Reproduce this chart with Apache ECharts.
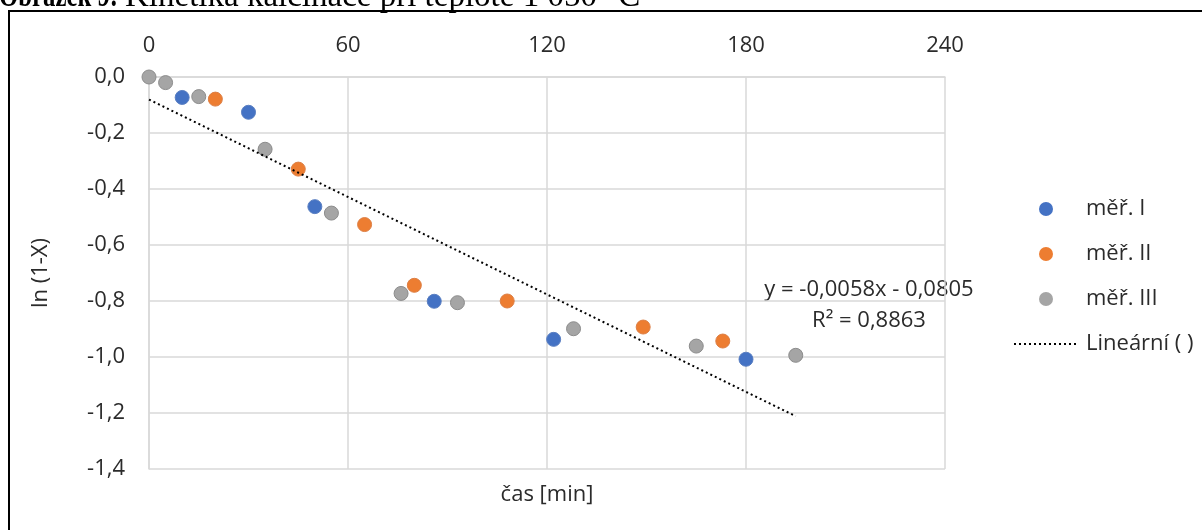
<!DOCTYPE html>
<html>
<head>
<meta charset="utf-8">
<title>Kinetika kalcinace</title>
<script src="https://cdn.jsdelivr.net/npm/echarts@6/dist/echarts.min.js"></script>
<style>
  html, body { margin: 0; padding: 0; background: #fff; }
  #chart { width: 1202px; height: 530px; }
</style>
</head>
<body>
<div id="chart"></div>
<script>
// Measurement series: time [min] and ln(1-X)
const seriesNames = ['měř. I', 'měř. II', 'měř. III'];
const seriesColors = ['#4472C4', '#ED7D31', '#A5A5A5'];
const seriesBorders = ['#5a7fc2', '#dd7f45', '#8c8c8c'];

const timesI = [10, 30, 50, 86, 122, 180];
const valuesI = [-0.073, -0.126, -0.463, -0.801, -0.937, -1.008];

const timesII = [20, 45, 65, 80, 108, 149, 173];
const valuesII = [-0.079, -0.329, -0.527, -0.744, -0.800, -0.893, -0.943];

const timesIII = [0, 5, 15, 35, 55, 76, 93, 128, 165, 195];
const valuesIII = [0, -0.020, -0.070, -0.258, -0.486, -0.773, -0.806, -0.899, -0.961, -0.994];

// Linear trend line as stated by its equation label
const trendName = 'Lineární ( )';
const trendSlope = [-0.0058];
const trendIntercept = [-0.0805];
const trendR2 = [0.8863];
const trendRange = [0, 195];

// Axis ticks
const xTicks = [0, 60, 120, 180, 240];
const yTicks = [0, -0.2, -0.4, -0.6, -0.8, -1.0, -1.2, -1.4];

const FONT = '"Open Sans", sans-serif';
const FS = 22;
const TEXT = '#2b2b2b';
const GRID = '#d9d9d9';

const fmtComma = (v, d) => {
  let s = Math.abs(v).toFixed(d).replace('.', ',');
  return (v < 0 && Math.abs(v) >= Math.pow(10, -d) / 2 ? '-' : '') + s;
};

const pairs = (xs, ys) => xs.map((x, i) => [x, ys[i]]);
const timeSets = [timesI, timesII, timesIII];
const valueSets = [valuesI, valuesII, valuesIII];
const zOrder = [2, 3, 2];

const scatterSeries = seriesNames.map((name, i) => ({
  name: name,
  type: 'scatter',
  z: zOrder[i],
  symbol: 'circle',
  symbolSize: 14,
  itemStyle: { color: seriesColors[i], borderColor: seriesBorders[i], borderWidth: 1, opacity: 1 },
  data: pairs(timeSets[i], valueSets[i])
}));

const trendData = trendRange.map(x => [x, trendSlope[0] * x + trendIntercept[0]]);
const trendLineStyle = { color: '#000', width: 2, type: [2, 3], cap: 'butt' };

const chart = echarts.init(document.getElementById('chart'), null, { renderer: 'canvas' });

chart.setOption({
  animation: false,
  backgroundColor: '#fff',
  textStyle: { fontFamily: FONT },
  grid: { left: 149, right: 257, top: 77, bottom: 61, containLabel: false },
  xAxis: [{
    type: 'value',
    position: 'top',
    min: xTicks[0],
    max: xTicks[xTicks.length - 1],
    interval: xTicks[1] - xTicks[0],
    axisLine: { show: true, onZero: false, lineStyle: { color: GRID, width: 1.5 } },
    axisTick: { show: false },
    axisLabel: { color: TEXT, fontFamily: FONT, fontSize: FS, margin: 20 },
    splitLine: { show: true, lineStyle: { color: GRID, width: 1.5 } }
  }, {
    type: 'value',
    position: 'bottom',
    min: xTicks[0],
    max: xTicks[xTicks.length - 1],
    axisLine: { show: false },
    axisTick: { show: false },
    axisLabel: { show: false },
    splitLine: { show: false },
    name: 'čas [min]',
    nameLocation: 'middle',
    nameGap: 15,
    nameTextStyle: { color: TEXT, fontFamily: FONT, fontSize: FS }
  }],
  yAxis: {
    type: 'value',
    min: yTicks[yTicks.length - 1],
    max: yTicks[0],
    interval: 0.2,
    axisLine: { show: true, onZero: false, lineStyle: { color: GRID, width: 1.5 } },
    axisTick: { show: false },
    axisLabel: {
      color: TEXT, fontFamily: FONT, fontSize: FS, margin: 24,
      formatter: v => fmtComma(v, 1)
    },
    splitLine: { show: true, lineStyle: { color: GRID, width: 1.5 } },
    name: 'ln (1-X)',
    nameLocation: 'middle',
    nameGap: 97,
    nameTextStyle: { color: TEXT, fontFamily: FONT, fontSize: FS }
  },
  legend: {
    orient: 'vertical',
    left: 1008,
    top: 193,
    itemWidth: 64,
    itemHeight: 14,
    itemGap: 23,
    textStyle: { color: TEXT, fontFamily: FONT, fontSize: FS, lineHeight: 22, padding: [0, 0, 0, 3] },
    data: seriesNames.map(n => ({ name: n, icon: 'circle', itemStyle: { borderWidth: 0 } })).concat([{
      name: trendName,
      itemStyle: { opacity: 0 },
      lineStyle: trendLineStyle
    }])
  },
  series: scatterSeries.concat([{
    name: trendName,
    type: 'line',
    z: 5,
    symbol: 'none',
    silent: true,
    itemStyle: { color: '#000' },
    lineStyle: trendLineStyle,
    data: trendData
  }]),
  graphic: [
    {
      type: 'rect',
      silent: true,
      shape: { x: 9, y: 11, width: 1400, height: 800 },
      style: { fill: 'none', stroke: '#000', lineWidth: 2 }
    },
    {
      type: 'text',
      silent: true,
      x: 118, y: -3,
      scaleX: 0.75,
      style: {
        text: 'Obrázek 9:',
        font: 'bold 33px "Liberation Serif", serif',
        fill: '#000', align: 'right', verticalAlign: 'middle'
      }
    },
    {
      type: 'text',
      silent: true,
      x: 125, y: -3,
      style: {
        text: 'Kinetika kalcinace při teplotě 1 050 °C',
        font: '33px "Liberation Serif", serif',
        fill: '#000', align: 'left', verticalAlign: 'middle'
      }
    },
    {
      type: 'text',
      silent: true,
      x: 869, y: 305,
      style: {
        text: 'y = ' + fmtComma(trendSlope[0], 4) + 'x - ' + fmtComma(Math.abs(trendIntercept[0]), 4) +
              '\nR² = ' + fmtComma(trendR2[0], 4),
        font: FS + 'px "Open Sans", sans-serif',
        lineHeight: 31,
        fill: TEXT, align: 'center', verticalAlign: 'middle'
      }
    }
  ]
});
</script>
</body>
</html>
